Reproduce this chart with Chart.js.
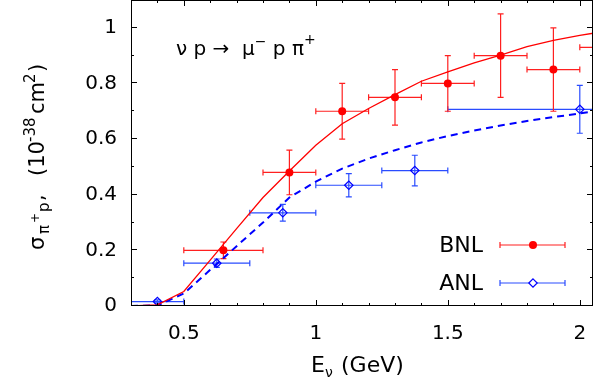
<!DOCTYPE html>
<html>
<head>
<meta charset="utf-8">
<script src="https://cdn.jsdelivr.net/npm/chart.js@4/dist/chart.umd.min.js"></script>
<style>
  html, body { margin: 0; padding: 0; background: #fff; }
  canvas { display: block; }
</style>
</head>
<body>
<canvas id="c" width="601" height="385"></canvas>
<script>
// ---- data ----
const curveE = [0.3, 0.4, 0.5, 0.6, 0.7, 0.8, 0.9, 1.0, 1.1, 1.2, 1.3, 1.4, 1.5, 1.6, 1.7, 1.8, 1.9, 2.0, 2.1];
const bnlCurve = [0.0, 0.004, 0.052, 0.165, 0.278, 0.390, 0.485, 0.578, 0.655, 0.710, 0.760, 0.808, 0.842, 0.874, 0.902, 0.932, 0.955, 0.973, 0.988];
const anlCurve = [0.0, 0.002, 0.045, 0.130, 0.215, 0.300, 0.390, 0.447, 0.494, 0.530, 0.560, 0.588, 0.611, 0.631, 0.649, 0.665, 0.679, 0.692, 0.706];

const bnlE     = [0.65, 0.9, 1.1, 1.3, 1.5, 1.7, 1.9, 2.1];
const bnlSigma = [0.20, 0.48, 0.70, 0.75, 0.80, 0.90, 0.85, 0.93];
const bnlElo   = [0.5, 0.8, 1.0, 1.2, 1.4, 1.6, 1.8, 2.0];
const bnlEhi   = [0.8, 1.0, 1.2, 1.4, 1.6, 1.8, 2.0, 2.2];
const bnlErr   = [0.03, 0.08, 0.10, 0.10, 0.10, 0.15, 0.15, 0.15];

const anlE     = [0.40, 0.625, 0.875, 1.125, 1.375, 2.0];
const anlSigma = [0.016, 0.154, 0.335, 0.434, 0.487, 0.707];
const anlElo   = [0.3, 0.5, 0.75, 1.0, 1.25, 1.5];
const anlEhi   = [0.5, 0.75, 1.0, 1.25, 1.5, 2.5];
const anlErr   = [0.006, 0.015, 0.030, 0.042, 0.055, 0.086];

const xTicks = [0.5, 1, 1.5, 2];
const xTickLabels = ['0.5', '1', '1.5', '2'];
const xMinorTicks = [0.4, 0.6, 0.7, 0.8, 0.9, 1.1, 1.2, 1.3, 1.4, 1.6, 1.7, 1.8, 1.9];
const yTicks = [0, 0.2, 0.4, 0.6, 0.8, 1.0];
const yTickLabels = ['0', '0.2', '0.4', '0.6', '0.8', '1'];
const yMinorTicks = [0.1, 0.3, 0.5, 0.7, 0.9];

const seriesNames = ['BNL', 'ANL'];

// ---- styles ----
const RED = '#ff0000', BLUE = '#0000ff';
const RED_BAR = '#ff2020', BLUE_BAR = '#2a4cff';
const FONT = 'DejaVu Sans';

const pts = (xs, ys) => xs.map((x, i) => ({ x: x, y: ys[i] }));

const errorBars = {
  id: 'errorBars',
  beforeDatasetsDraw(chart) {
    const { ctx, chartArea: a, scales: { x, y } } = chart;
    ctx.save();
    ctx.beginPath();
    ctx.rect(a.left, a.top, a.right - a.left, a.bottom - a.top);
    ctx.clip();
    const draw = (E, S, lo, hi, err, color) => {
      ctx.strokeStyle = color;
      ctx.lineWidth = 1.2;
      for (let i = 0; i < E.length; i++) {
        const px = x.getPixelForValue(E[i]);
        const py = y.getPixelForValue(S[i]);
        const x0 = x.getPixelForValue(lo[i]);
        const x1 = x.getPixelForValue(hi[i]);
        const y0 = y.getPixelForValue(S[i] - err[i]);
        const y1 = y.getPixelForValue(S[i] + err[i]);
        ctx.beginPath();
        ctx.moveTo(x0, py); ctx.lineTo(x1, py);
        ctx.moveTo(x0, py - 3); ctx.lineTo(x0, py + 3);
        ctx.moveTo(x1, py - 3); ctx.lineTo(x1, py + 3);
        ctx.moveTo(px, y0); ctx.lineTo(px, y1);
        ctx.moveTo(px - 3, y0); ctx.lineTo(px + 3, y0);
        ctx.moveTo(px - 3, y1); ctx.lineTo(px + 3, y1);
        ctx.stroke();
      }
    };
    draw(anlE, anlSigma, anlElo, anlEhi, anlErr, BLUE_BAR);
    draw(bnlE, bnlSigma, bnlElo, bnlEhi, bnlErr, RED_BAR);
    ctx.restore();
  }
};

function drawPieces(ctx, x, y, pieces) {
  // [text, size, dy, optional absolute offset]
  let cx = x;
  for (const [t, s, dy, at] of pieces) {
    if (at !== undefined) cx = x + at;
    ctx.font = s + 'px "' + FONT + '"';
    ctx.fillText(t, cx, y + dy);
    cx += ctx.measureText(t).width;
  }
  return cx;
}

const decorations = {
  id: 'decorations',
  afterDraw(chart) {
    const { ctx, chartArea: a, scales: { x, y } } = chart;
    ctx.save();
    ctx.strokeStyle = '#000';
    ctx.lineWidth = 1;
    ctx.strokeRect(a.left + 0.5, a.top + 0.5, a.right - a.left - 1, a.bottom - a.top - 1);
    ctx.beginPath();
    const xt = (vals, len) => vals.forEach(v => {
      const p = Math.round(x.getPixelForValue(v)) + 0.5;
      ctx.moveTo(p, a.bottom); ctx.lineTo(p, a.bottom - len);
      ctx.moveTo(p, a.top); ctx.lineTo(p, a.top + len);
    });
    const yt = (vals, len) => vals.forEach(v => {
      const p = Math.round(y.getPixelForValue(v)) - 0.5;
      ctx.moveTo(a.left, p); ctx.lineTo(a.left + len, p);
      ctx.moveTo(a.right, p); ctx.lineTo(a.right - len, p);
    });
    xt(xTicks, 6); xt(xMinorTicks, 3);
    yt(yTicks, 6); yt(yMinorTicks, 3);
    ctx.stroke();

    ctx.fillStyle = '#000';
    ctx.textBaseline = 'alphabetic';
    ctx.textAlign = 'left';
    drawPieces(ctx, 176, 55, [
      ['ν p →  μ', 20, 0], ['−', 14, -9], [' p π', 20, 0], ['+', 14, -11]
    ]);

    const legend = [
      { name: seriesNames[0], cy: 245, color: RED, bar: RED_BAR, style: 'circle' },
      { name: seriesNames[1], cy: 283, color: BLUE, bar: BLUE_BAR, style: 'diamond' }
    ];
    legend.forEach(l => {
      ctx.font = '22px "' + FONT + '"';
      ctx.textAlign = 'right';
      ctx.textBaseline = 'middle';
      ctx.fillStyle = '#000';
      ctx.fillText(l.name, 483, l.cy + 1);
      ctx.strokeStyle = l.bar;
      ctx.lineWidth = 1.2;
      ctx.beginPath();
      ctx.moveTo(500, l.cy); ctx.lineTo(565, l.cy);
      ctx.moveTo(500, l.cy - 3); ctx.lineTo(500, l.cy + 3);
      ctx.moveTo(565, l.cy - 3); ctx.lineTo(565, l.cy + 3);
      ctx.stroke();
      if (l.style === 'circle') {
        ctx.fillStyle = l.color;
        ctx.beginPath(); ctx.arc(533, l.cy, 4, 0, Math.PI * 2); ctx.fill();
      } else {
        ctx.strokeStyle = l.color;
        ctx.fillStyle = '#fff';
        ctx.beginPath();
        ctx.moveTo(533, l.cy - 4.2); ctx.lineTo(537.2, l.cy);
        ctx.lineTo(533, l.cy + 4.2); ctx.lineTo(528.8, l.cy); ctx.closePath();
        ctx.fill(); ctx.stroke();
      }
    });

    // x axis title
    ctx.fillStyle = '#000';
    ctx.textAlign = 'left';
    ctx.textBaseline = 'alphabetic';
    drawPieces(ctx, 311, 372, [['E', 22, 0], ['ν', 14, 5], ['(GeV)', 22, 0, 30]]);

    // y axis title (rotated, reads bottom to top)
    ctx.save();
    ctx.translate(44, 250);
    ctx.rotate(-Math.PI / 2);
    drawPieces(ctx, 0, 0, [
      ['σ', 21, 0, 0], ['π', 15, 5, 16], ['+', 12, -5, 27], ['p', 15, 5, 38], [',', 21, 0, 49],
      ['(10', 21, 0, 74], ['-38', 15, -9, 108], ['cm', 21, 0, 136], ['2', 15, -9, 167], [')', 21, 0, 178]
    ]);
    ctx.restore();
    ctx.restore();
  }
};

new Chart(document.getElementById('c'), {
  type: 'scatter',
  data: {
    datasets: [
      { label: 'BNL curve', data: pts(curveE, bnlCurve), showLine: true, borderColor: RED, borderWidth: 1.3, pointRadius: 0, tension: 0 },
      { label: 'ANL curve', data: pts(curveE, anlCurve), showLine: true, borderColor: BLUE, borderWidth: 2, borderDash: [7, 5], pointRadius: 0, tension: 0 },
      { label: seriesNames[0], data: pts(bnlE, bnlSigma), pointStyle: 'circle', pointRadius: 4, backgroundColor: RED, borderColor: RED, borderWidth: 0 },
      { label: seriesNames[1], data: pts(anlE, anlSigma), pointStyle: 'rectRot', pointRadius: 4.2, backgroundColor: 'rgba(0,0,0,0)', borderColor: BLUE, borderWidth: 1.2 }
    ]
  },
  options: {
    responsive: false,
    animation: false,
    devicePixelRatio: 1,
    layout: { autoPadding: false, padding: { top: 0, right: 8, bottom: 0, left: 0 } },
    plugins: { legend: { display: false }, tooltip: { enabled: false }, title: { display: false } },
    scales: {
      x: {
        type: 'linear', min: 0.3, max: 2.05,
        grid: { display: false, drawTicks: false }, border: { display: false },
        ticks: { color: '#000', font: { family: FONT, size: 20 }, padding: 16, maxRotation: 0, autoSkip: false,
                 callback: (v, i) => xTickLabels[i] },
        afterBuildTicks: s => { s.ticks = xTicks.map(v => ({ value: v })); },
        afterFit: s => { s.height = 79; s.paddingLeft = 0; s.paddingRight = 0; }
      },
      y: {
        type: 'linear', min: 0, max: 1.1,
        grid: { display: false, drawTicks: false }, border: { display: false },
        ticks: { color: '#000', font: { family: FONT, size: 20 }, padding: 14, autoSkip: false,
                 callback: (v, i) => yTickLabels[i] },
        afterBuildTicks: s => { s.ticks = yTicks.map(v => ({ value: v })); },
        afterFit: s => { s.width = 131; s.paddingTop = 0; s.paddingBottom = 0; }
      }
    }
  },
  plugins: [errorBars, decorations]
});
</script>
</body>
</html>
